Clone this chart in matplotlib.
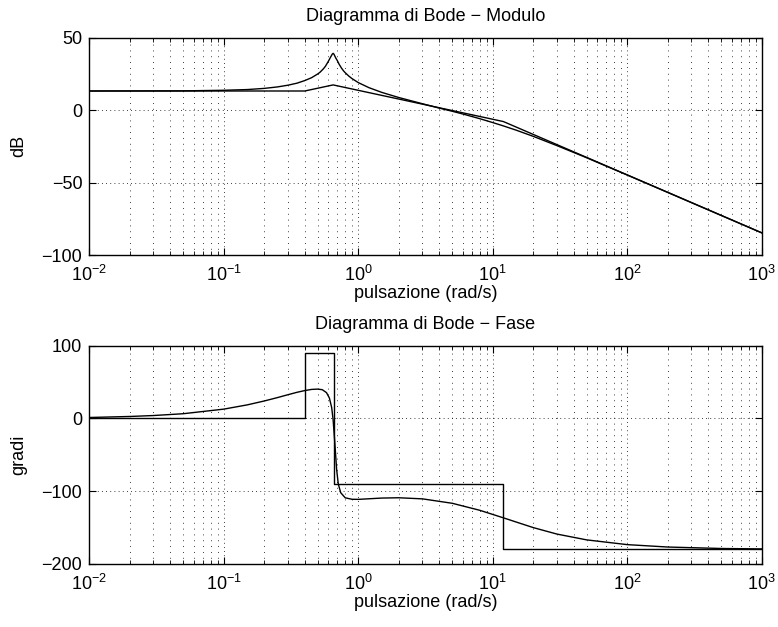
import matplotlib
matplotlib.use('Agg')
import matplotlib.pyplot as plt
from matplotlib.ticker import LogLocator, NullFormatter

plt.rcParams['font.family'] = ['Liberation Sans', 'DejaVu Sans']
plt.rcParams['mathtext.fontset'] = 'custom'
plt.rcParams['mathtext.rm'] = 'Liberation Sans'
plt.rcParams['mathtext.it'] = 'Liberation Sans'
plt.rcParams['font.size'] = 13

# pulsazioni (rad/s)
w_mod = [0.01, 0.05, 0.1, 0.15, 0.2, 0.25, 0.3, 0.35, 0.4, 0.45, 0.5, 0.52, 0.55,
         0.57, 0.6, 0.62, 0.64, 0.65, 0.66, 0.68, 0.7, 0.72, 0.75, 0.78, 0.8,
         0.85, 0.9, 1.0, 1.2, 1.5, 2, 3, 4, 5, 6, 8, 10, 12, 15, 20, 30, 50, 70,
         100, 200, 500, 1000]
# modulo reale (dB)
mod_db = [13.2, 13.3, 13.7, 14.2, 15.0, 16.0, 17.2, 18.6, 20.4, 22.4, 25.0, 26.2,
          28.5, 30.3, 33.8, 36.3, 38.6, 39.2, 38.5, 36.0, 34.0, 31.7, 29.0, 26.9,
          25.8, 23.5, 21.7, 19.0, 15.5, 12.2, 8.7, 4.4, 1.4, -0.8, -2.7, -5.9,
          -8.6, -10.9, -13.9, -18.1, -24.5, -32.9, -38.7, -44.8, -56.8, -72.7,
          -84.7]
# modulo asintotico
w_mod_as = [0.01, 0.4, 0.65, 12, 1000]
mod_as_db = [13.2, 13.2, 17.4, -7.9, -84.7]

# fase reale (gradi)
w_fase = [0.01, 0.02, 0.03, 0.05, 0.1, 0.15, 0.2, 0.25, 0.3, 0.35, 0.4, 0.45,
          0.5, 0.54, 0.58, 0.61, 0.634, 0.65, 0.67, 0.69, 0.71, 0.74, 0.8, 0.9,
          1.0, 1.5, 2, 3, 5, 8, 12, 20, 30, 50, 100, 200, 500, 1000]
fase = [1.3, 2.7, 4.0, 6.5, 12.8, 18.7, 24.0, 28.6, 32.6, 35.9, 38.3, 39.9,
        40.3, 39.5, 35.5, 28.0, 15.0, -2.0, -35.0, -70.0, -90.0, -102.0, -109.1,
        -111.1, -111.2, -109.4, -109.0, -110.5, -116.6, -126.2, -136.6, -150.0,
        -158.9, -166.9, -173.4, -176.7, -178.7, -179.3]
# fase asintotica
w_fase_as = [0.01, 0.4, 0.4, 0.66, 0.66, 12, 12, 1000]
fase_as = [0, 0, 90, 90, -90, -90, -180, -180]

fig = plt.figure(figsize=(7.78, 6.27), dpi=100)
ax1 = fig.add_axes([0.1148, 0.5933, 0.8643, 0.3466])
ax2 = fig.add_axes([0.1148, 0.1005, 0.8643, 0.3482])


def stile(ax):
    ax.set_xscale('log')
    ax.set_xlim(1e-2, 1e3)
    ax.xaxis.set_minor_locator(LogLocator(base=10, subs=range(2, 10), numticks=20))
    ax.xaxis.set_minor_formatter(NullFormatter())
    ax.tick_params(which='both', direction='in', top=True, right=True)
    ax.tick_params(which='major', length=5)
    ax.tick_params(which='minor', length=3)
    ax.tick_params(axis='x', which='major', pad=7)
    ax.tick_params(axis='y', which='major', pad=5)
    ax.grid(True, which='major', color='k', linestyle=(0, (1, 4)), linewidth=0.6)
    ax.grid(True, which='minor', axis='x', color='k', linestyle=(0, (1, 6)), linewidth=0.6)
    for s in ax.spines.values():
        s.set_linewidth(1.0)
    ax.set_xlabel('pulsazione (rad/s)', labelpad=0)


ax1.plot(w_mod, mod_db, color='k', linewidth=1.0)
ax1.plot(w_mod_as, mod_as_db, color='k', linewidth=1.0)
stile(ax1)
ax1.set_ylim(-100, 50)
ax1.set_yticks([-100, -50, 0, 50])
ax1.set_ylabel('dB', labelpad=10)
ax1.set_title('Diagramma di Bode \u2212 Modulo', fontsize=13, pad=12)

ax2.plot(w_fase, fase, color='k', linewidth=1.0)
ax2.plot(w_fase_as, fase_as, color='k', linewidth=1.0)
stile(ax2)
ax2.set_ylim(-200, 100)
ax2.set_yticks([-200, -100, 0, 100])
ax2.set_ylabel('gradi', labelpad=10)
ax2.set_title('Diagramma di Bode \u2212 Fase', fontsize=13, pad=12)

fig.savefig('out.png', dpi=100)
